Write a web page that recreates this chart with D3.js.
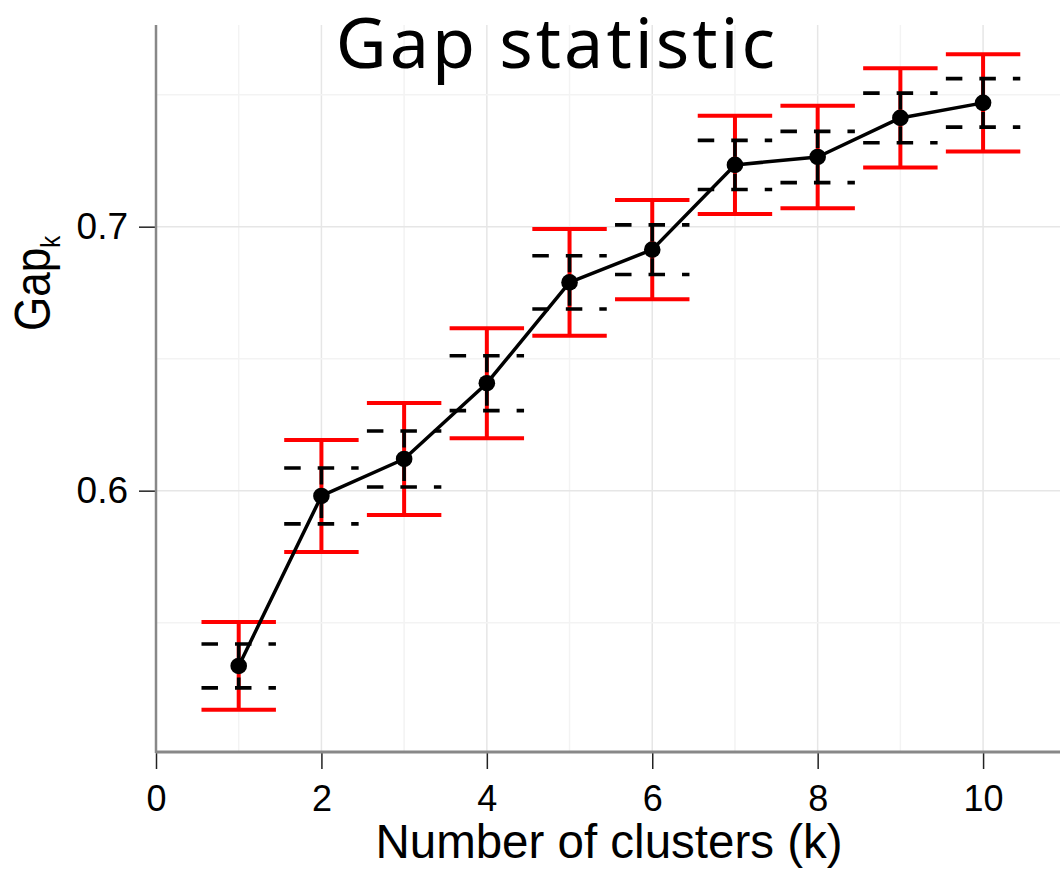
<!DOCTYPE html>
<html>
<head>
<meta charset="utf-8">
<script src="https://cdn.jsdelivr.net/npm/d3@7/dist/d3.min.js"></script>
<style>
  html, body { margin: 0; padding: 0; background: #fff; }
  svg { display: block; }
</style>
</head>
<body>
<svg id="chart" width="1060" height="869"></svg>
<script>
// Number of clusters tried
const ks = [1, 2, 3, 4, 5, 6, 7, 8, 9, 10];
// Gap statistic for each k
const gap = [0.5336, 0.5980, 0.6120, 0.6407, 0.6789, 0.6913, 0.7234, 0.7264, 0.7412, 0.7469];
// Standard error s_k for each k (dashed bars = ±s_k, red bars = ±2·s_k)
const sk = [0.0083, 0.0106, 0.0106, 0.0104, 0.0101, 0.0094, 0.0093, 0.0097, 0.0094, 0.0092];
// Axis ticks
const xTicks = [0, 2, 4, 6, 8, 10];
const yTicks = [0.6, 0.7];
const xMinor = [1, 2, 3, 4, 5, 6, 7, 8, 9, 10];
const yMinor = [0.55, 0.6, 0.65, 0.7, 0.75];

(function () {
const svg = d3.select("#chart");
const pLeft = 156, pRight = 1060, pTop = 25, pBottom = 752;
const sans = "'Liberation Sans', Arial, Helvetica, sans-serif";

const x = d3.scaleLinear().domain([0, 10.93]).range([pLeft, pRight]);
const y = d3.scaleLinear().domain([0.501, 0.7764]).range([pBottom, pTop]);

const capHalf = 0.45;

// grid
const grid = svg.append("g");
grid.selectAll("line.vx").data(xMinor).enter().append("line")
  .attr("x1", d => x(d)).attr("x2", d => x(d))
  .attr("y1", pTop).attr("y2", pBottom)
  .attr("stroke", d => d % 2 === 0 ? "#e6e6e6" : "#f3f3f3")
  .attr("stroke-width", 1.5);
grid.selectAll("line.hy").data(yMinor).enter().append("line")
  .attr("x1", pLeft).attr("x2", pRight)
  .attr("y1", d => y(d)).attr("y2", d => y(d))
  .attr("stroke", d => yTicks.some(t => Math.abs(t - d) < 1e-9) ? "#e6e6e6" : "#f3f3f3")
  .attr("stroke-width", 1.5);

// axes
const xAxis = d3.axisBottom(x).tickValues(xTicks).tickSize(17).tickPadding(16).tickSizeOuter(0)
  .tickFormat(d3.format("d"));
const gx = svg.append("g").attr("transform", `translate(0,${pBottom})`).call(xAxis);
gx.select(".domain").remove();
gx.selectAll(".tick line").attr("stroke", "#222").attr("stroke-width", 1.5);
gx.selectAll(".tick text").attr("fill", "#000")
  .style("font-family", sans).style("font-size", "36px");

const yAxis = d3.axisLeft(y).tickValues(yTicks).tickSize(17).tickPadding(11).tickSizeOuter(0)
  .tickFormat(d3.format(".1f"));
const gy = svg.append("g").attr("transform", `translate(${pLeft},0)`).call(yAxis);
gy.select(".domain").remove();
gy.selectAll(".tick line").attr("stroke", "#222").attr("stroke-width", 1.5);
gy.selectAll(".tick text").attr("fill", "#000")
  .style("font-family", sans).style("font-size", "37px");

// axis spines
svg.append("line").attr("x1", pLeft).attr("x2", pLeft).attr("y1", pTop).attr("y2", pBottom + 1)
  .attr("stroke", "#888").attr("stroke-width", 2.5);
svg.append("line").attr("x1", pLeft).attr("x2", pRight).attr("y1", pBottom).attr("y2", pBottom)
  .attr("stroke", "#888").attr("stroke-width", 3);

const data = ks.map((k, i) => ({ k, g: gap[i], s: sk[i] }));

// red ±2·s_k error bars
const red = svg.append("g").attr("stroke", "#ff0000").attr("stroke-width", 4).attr("fill", "none");
data.forEach(d => {
  red.append("line").attr("x1", x(d.k)).attr("x2", x(d.k))
    .attr("y1", y(d.g + 2 * d.s)).attr("y2", y(d.g - 2 * d.s));
  [d.g + 2 * d.s, d.g - 2 * d.s].forEach(v => {
    red.append("line").attr("x1", x(d.k - capHalf)).attr("x2", x(d.k + capHalf))
      .attr("y1", y(v)).attr("y2", y(v));
  });
});

// dashed ±s_k error bars
const dash = svg.append("g").attr("stroke", "#000").attr("stroke-width", 3.6)
  .attr("stroke-dasharray", "16.5,17").attr("fill", "none");
data.forEach(d => {
  dash.append("line").attr("x1", x(d.k)).attr("x2", x(d.k))
    .attr("y1", y(d.g + d.s)).attr("y2", y(d.g - d.s));
  [d.g + d.s, d.g - d.s].forEach(v => {
    dash.append("line").attr("x1", x(d.k - capHalf)).attr("x2", x(d.k + capHalf))
      .attr("y1", y(v)).attr("y2", y(v));
  });
});

// gap curve
svg.append("path").datum(data)
  .attr("d", d3.line().x(d => x(d.k)).y(d => y(d.g)))
  .attr("fill", "none").attr("stroke", "#000").attr("stroke-width", 3.5)
  .attr("stroke-linejoin", "round");

svg.append("g").selectAll("circle").data(data).enter().append("circle")
  .attr("cx", d => x(d.k)).attr("cy", d => y(d.g)).attr("r", 8.3).attr("fill", "#000");

// titles
svg.append("text").attr("x", 557).attr("y", 68).attr("text-anchor", "middle")
  .style("font-family", "'Noto Sans', 'Open Sans', sans-serif").style("font-size", "70px")
  .style("letter-spacing", "3px")
  .attr("fill", "#000").text("Gap statistic");

svg.append("text").attr("x", (pLeft + pRight) / 2 + 1).attr("y", 858).attr("text-anchor", "middle")
  .style("font-family", sans).style("font-size", "47.5px")
  .attr("fill", "#000").text("Number of clusters (k)");

const yl = svg.append("text").attr("transform", "translate(50,331) rotate(-90) scale(0.88,1)")
  .style("font-family", sans).style("font-size", "50px")
  .attr("fill", "#000");
yl.append("tspan").text("Gap");
yl.append("tspan").attr("dy", 10).style("font-size", "27px").text("k");
})();
</script>
</body>
</html>
